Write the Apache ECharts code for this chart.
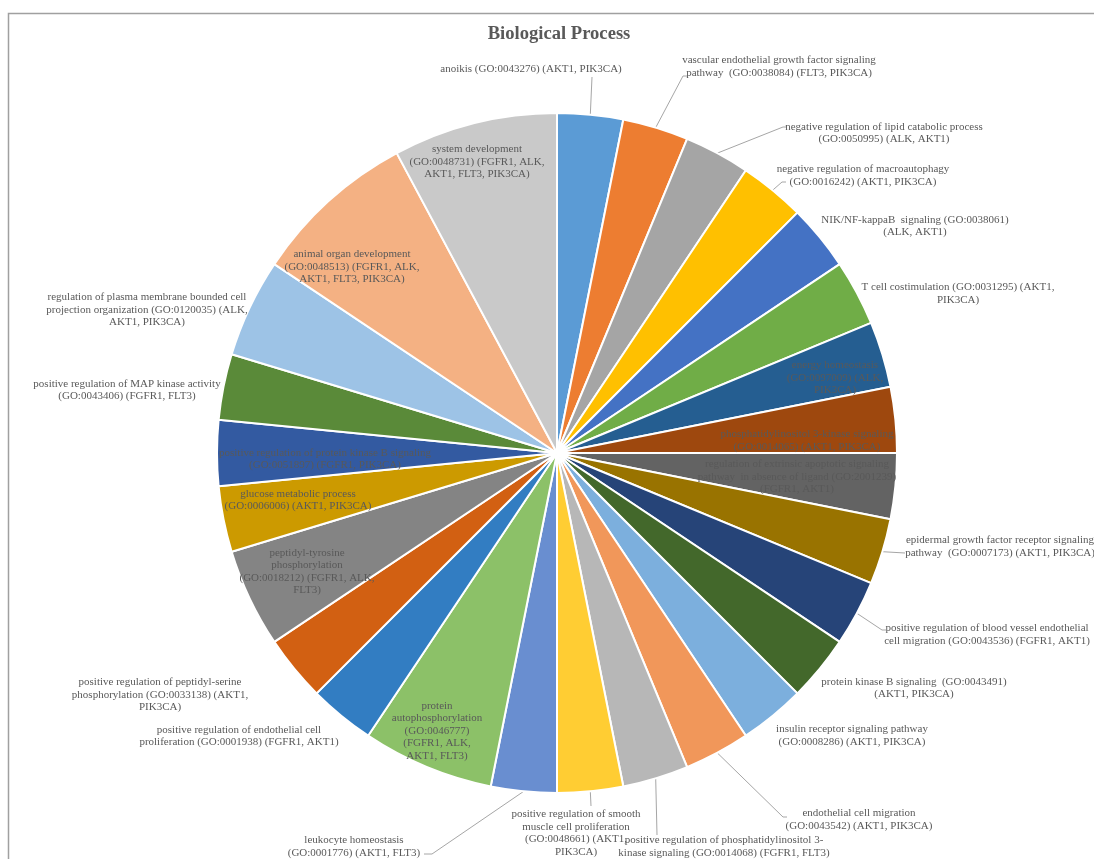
<!DOCTYPE html>
<html>
<head>
<meta charset="utf-8">
<script src="https://cdn.jsdelivr.net/npm/echarts@6/dist/echarts.min.js"></script>
<style>html,body{margin:0;padding:0;background:#fff}#c{width:1094px;height:859px}</style>
</head>
<body>
<div id="c"></div>
<script>
// ---- data ----
const categories = [
  'anoikis (GO:0043276) (AKT1, PIK3CA)',
  'vascular endothelial growth factor signaling\npathway  (GO:0038084) (FLT3, PIK3CA)',
  'negative regulation of lipid catabolic process\n(GO:0050995) (ALK, AKT1)',
  'negative regulation of macroautophagy\n(GO:0016242) (AKT1, PIK3CA)',
  'NIK/NF-kappaB  signaling (GO:0038061)\n(ALK, AKT1)',
  'T cell costimulation (GO:0031295) (AKT1,\nPIK3CA)',
  'energy homeostasis\n(GO:0097009) (ALK,\nPIK3CA)',
  'phosphatidylinositol 3-kinase signaling\n(GO:0014065) (AKT1, PIK3CA)',
  'regulation of extrinsic apoptotic signaling\npathway  in absence of ligand (GO:2001239)\n(FGFR1, AKT1)',
  'epidermal growth factor receptor signaling\npathway  (GO:0007173) (AKT1, PIK3CA)',
  'positive regulation of blood vessel endothelial\ncell migration (GO:0043536) (FGFR1, AKT1)',
  'protein kinase B signaling  (GO:0043491)\n(AKT1, PIK3CA)',
  'insulin receptor signaling pathway\n(GO:0008286) (AKT1, PIK3CA)',
  'endothelial cell migration\n(GO:0043542) (AKT1, PIK3CA)',
  'positive regulation of phosphatidylinositol 3-\nkinase signaling (GO:0014068) (FGFR1, FLT3)',
  'positive regulation of smooth\nmuscle cell proliferation\n(GO:0048661) (AKT1,\nPIK3CA)',
  'leukocyte homeostasis\n(GO:0001776) (AKT1, FLT3)',
  'protein\nautophosphorylation\n(GO:0046777)\n(FGFR1, ALK,\nAKT1, FLT3)',
  'positive regulation of endothelial cell\nproliferation (GO:0001938) (FGFR1, AKT1)',
  'positive regulation of peptidyl-serine\nphosphorylation (GO:0033138) (AKT1,\nPIK3CA)',
  'peptidyl-tyrosine\nphosphorylation\n(GO:0018212) (FGFR1, ALK,\nFLT3)',
  'glucose metabolic process\n(GO:0006006) (AKT1, PIK3CA)',
  'positive regulation of protein kinase B signaling\n(GO:0051897) (FGFR1, PIK3CA)',
  'positive regulation of MAP kinase activity\n(GO:0043406) (FGFR1, FLT3)',
  'regulation of plasma membrane bounded cell\nprojection organization (GO:0120035) (ALK,\nAKT1, PIK3CA)',
  'animal organ development\n(GO:0048513) (FGFR1, ALK,\nAKT1, FLT3, PIK3CA)',
  'system development\n(GO:0048731) (FGFR1, ALK,\nAKT1, FLT3, PIK3CA)'
];
// number of genes per term
const geneCounts = [2,2,2,2,2,2,2,2,2,2,2,2,2,2,2,2,2,4,2,2,3,2,2,2,3,5,5];

// ---- styles / layout ----
const colors = ['#5B9BD5','#ED7D31','#A5A5A5','#FFC000','#4472C4','#70AD47',
  '#255E91','#9E480E','#636363','#997300','#264478','#43682B',
  '#7CAFDD','#F1975A','#B7B7B7','#FFCD33','#698ED0','#8CC168',
  '#327DC2','#D26012','#848484','#CC9A00','#335AA1','#5A8A39',
  '#9DC3E6','#F4B183','#C9C9C9'];
const CX = 557, CY = 453, R = 340;
// label block centres (px)
const labelAnchors = [
  [531,69],[779,66.5],[884,133],[863,175.5],[915,226],[958,293.5],
  [835,378],[807,440.5],[797,477],[1000,546.5],[987,634.5],[914,688],
  [852,735.5],[859,819.5],[724,846.5],[576,833],[354,846.5],[437,731],
  [239,736],[160,695],[307,571.5],[298,500],[325,459],[127,390],
  [147,310],[352,267],[477,162]
];
// leader line bends (px) for labels that have one
const leaderBends = {
  0: [[592,77],[592,77]],
  1: [[683,76],[687,76]],
  2: [[783,127],[786,127]],
  3: [[782,182],[786,182]],
  9: [[905,553],[905,553]],
  10: [[882,630],[886,630]],
  13: [[783,817],[787,817]],
  14: [[657,835],[657,835]],
  15: [[591,806],[591,806]],
  16: [[432,854],[424,854]]
};

const total = geneCounts.reduce((a, b) => a + b, 0);
const midAngles = [];
let acc = 0;
geneCounts.forEach(v => { midAngles.push((acc + v / 2) / total * 2 * Math.PI); acc += v; });

const data = categories.map((name, i) => ({
  name: name,
  value: geneCounts[i],
  itemStyle: { color: colors[i] },
  labelLine: { show: !!leaderBends[i] }
}));

const chart = echarts.init(document.getElementById('c'), null, { renderer: 'canvas' });
chart.setOption({
  animation: false,
  backgroundColor: '#ffffff',
  title: {
    text: 'Biological Process',
    left: 559, top: 25, textAlign: 'center', padding: 0,
    textStyle: { fontFamily: 'Liberation Serif', fontSize: 18.6, fontWeight: 'bold', color: '#595959' }
  },
  graphic: [{
    type: 'rect', silent: true,
    shape: { x: 8.5, y: 13.5, width: 1200, height: 1000 },
    style: { fill: 'none', stroke: '#a0a0a0', lineWidth: 1.5 }
  }],
  series: [{
    type: 'pie',
    center: [CX, CY],
    radius: R,
    startAngle: 90,
    clockwise: true,
    avoidLabelOverlap: false,
    emphasis: { disabled: true },
    itemStyle: { borderColor: '#ffffff', borderWidth: 2 },
    label: {
      show: true, position: 'outside', overflow: 'none',
      fontFamily: 'Liberation Serif', fontSize: 11, lineHeight: 12.5,
      color: '#595959', formatter: '{b}'
    },
    labelLine: { lineStyle: { color: '#a6a6a6', width: 1 } },
    labelLayout: function (p) {
      const i = p.dataIndex;
      const a = labelAnchors[i];
      const res = { x: a[0], y: a[1], align: 'center', verticalAlign: 'middle' };
      const bend = leaderBends[i];
      if (bend) {
        const ang = midAngles[i];
        res.labelLinePoints = [[CX + R * Math.sin(ang), CY - R * Math.cos(ang)], bend[0], bend[1]];
      }
      return res;
    },
    data: data
  }]
});
</script>
</body>
</html>
